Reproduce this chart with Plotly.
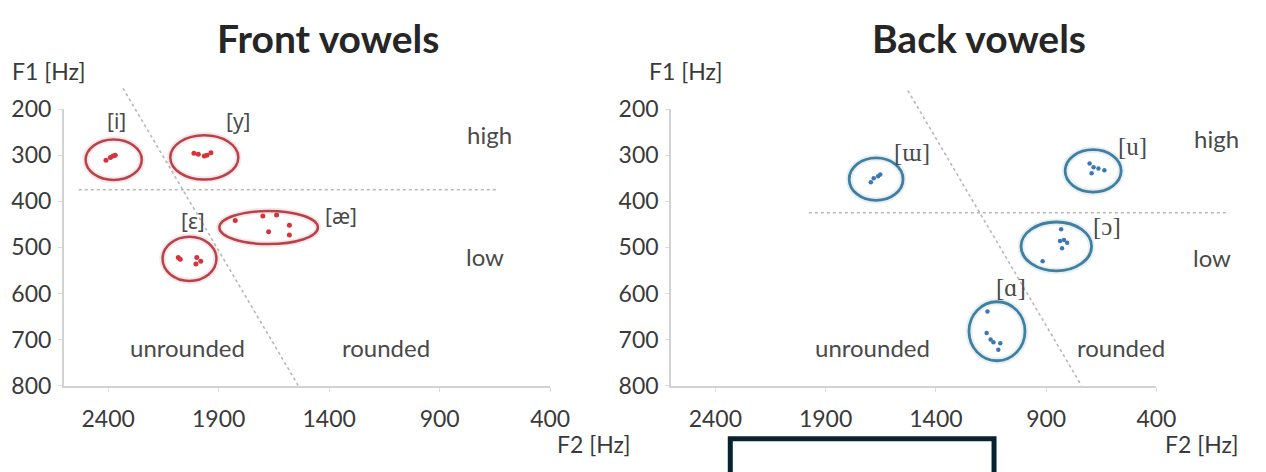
import plotly.graph_objects as go

W, H = 1266, 472

# ---- formant measurements (Hz): F2 on the x axis, F1 on the y axis ----
# front vowels
I_F2 = [2410, 2390, 2378, 2368]
I_F1 = [311, 305, 302, 300]
Y_F2 = [2012, 1992, 1965, 1953, 1935]
Y_F1 = [296, 298, 302, 300, 295]
EPS_F2 = [2083, 2074, 1999, 1981, 2003]
EPS_F1 = [522, 526, 522, 530, 536]
AE_F2 = [1825, 1700, 1638, 1674, 1580, 1580]
AE_F1 = [442, 432, 430, 466, 452, 473]

# back vowels
UU_F2 = [1695, 1682, 1662, 1652]
UU_F1 = [359, 350, 346, 342]
U_F2 = [703, 685, 663, 636, 694]
U_F1 = [318, 326, 329, 333, 339]
OO_F2 = [832, 837, 819, 805, 828, 916]
OO_F1 = [461, 486, 484, 490, 502, 530]
A_F2 = [1166, 1170, 1152, 1139, 1108, 1117]
A_F1 = [639, 686, 700, 706, 708, 722]

# cluster outlines: centre F2, centre F1, half-width (Hz), half-height (Hz)
FRONT_CLUSTERS = {
    "i": (2375, 310, 127, 44),
    "y": (1965, 305, 154, 48),
    "ε": (2032, 525, 122, 48),
    "æ": (1674, 457, 223, 36),
}
BACK_CLUSTERS = {
    "ɯ": (1671, 352, 122, 46),
    "u": (687, 334, 127, 46),
    "ɔ": (854, 498, 160, 53),
    "ɑ": (1123, 682, 127, 64),
}

X_TICKS = [2400, 1900, 1400, 900, 400]
Y_TICKS = [200, 300, 400, 500, 600, 700, 800]
X_RANGE = [2600, 400]
Y_RANGE = [800, 200]

# ---- layout geometry ----
X_DOMAINS = [(65 / W, 559 / W), (682 / W, 1175 / W)]
Y_DOMAIN = (1 - 394 / H, 1 - 100 / H)

FONT = "Lato, 'Source Sans Pro', 'Noto Sans', sans-serif"
IPA_SANS = "'Noto Sans', 'DejaVu Sans', sans-serif"
IPA_SERIF = "'Liberation Serif', 'DejaVu Serif', serif"
TEXT = "#3a3a3a"
LABEL = "#4a4a4a"
RED_LINE = "#b9424a"
RED_DOT = "#d4343c"
BLUE_LINE = "#3f7f9f"
BLUE_DOT = "#3a78b5"
GUIDE = "#b8b8b8"


def to_paper(panel, f2, f1):
    """Map a (F2, F1) pair onto paper coordinates of the given panel."""
    d0, d1 = X_DOMAINS[panel]
    xf = d0 + (X_RANGE[0] - f2) / (X_RANGE[0] - X_RANGE[1]) * (d1 - d0)
    yf = Y_DOMAIN[1] - (f1 - Y_RANGE[1]) / (Y_RANGE[0] - Y_RANGE[1]) * (Y_DOMAIN[1] - Y_DOMAIN[0])
    return xf, yf


fig = go.Figure()

front_series = [(I_F2, I_F1), (Y_F2, Y_F1), (EPS_F2, EPS_F1), (AE_F2, AE_F1)]
back_series = [(UU_F2, UU_F1), (U_F2, U_F1), (OO_F2, OO_F1), (A_F2, A_F1)]

for f2, f1 in front_series:
    fig.add_trace(go.Scatter(x=f2, y=f1, mode="markers", xaxis="x", yaxis="y",
                             marker=dict(size=5, color=RED_DOT), showlegend=False,
                             hoverinfo="skip"))
for f2, f1 in back_series:
    fig.add_trace(go.Scatter(x=f2, y=f1, mode="markers", xaxis="x2", yaxis="y2",
                             marker=dict(size=4.5, color=BLUE_DOT), showlegend=False,
                             hoverinfo="skip"))

shapes = []


def ellipse(xref, yref, params, color, width):
    cx, cy, rx, ry = params
    # soft halo under the outline
    shapes.append(dict(type="circle", xref=xref, yref=yref,
                       x0=cx - rx, x1=cx + rx, y0=cy - ry, y1=cy + ry,
                       line=dict(color=color, width=width + 4), opacity=0.12, layer="below"))
    shapes.append(dict(type="circle", xref=xref, yref=yref,
                       x0=cx - rx, x1=cx + rx, y0=cy - ry, y1=cy + ry,
                       line=dict(color=color, width=width)))


for p in FRONT_CLUSTERS.values():
    ellipse("x", "y", p, RED_LINE, 2.5)
for p in BACK_CLUSTERS.values():
    ellipse("x2", "y2", p, BLUE_LINE, 2.8)


def guide(panel, a, b):
    x0, y0 = to_paper(panel, *a)
    x1, y1 = to_paper(panel, *b)
    shapes.append(dict(type="line", xref="paper", yref="paper", x0=x0, y0=y0, x1=x1, y1=y1,
                       line=dict(color=GUIDE, width=1.6, dash="dot"), layer="below"))


# high / low boundary and rounded / unrounded boundary
guide(0, (2533, 375), (640, 375))
guide(0, (2333, 155), (1540, 800))
guide(1, (1976, 425), (70, 425))
guide(1, (1527, 160), (740, 800))

# framed box at the bottom edge
shapes.append(dict(type="rect", xref="paper", yref="paper",
                   x0=742 / W, x1=1010 / W, y0=-0.05, y1=1 - 450.5 / H,
                   line=dict(color="#08222f", width=5), fillcolor="rgba(0,0,0,0)"))

annotations = []


def note(panel, f2, f1, text, size=24, family=FONT, color=LABEL):
    x, y = to_paper(panel, f2, f1)
    annotations.append(dict(xref="paper", yref="paper", x=x, y=y, text=text,
                            showarrow=False, xanchor="center", yanchor="middle",
                            font=dict(family=family, size=size, color=color)))


# vowel labels
note(0, 2364, 225, "[i]", family=IPA_SANS, size=21)
note(0, 1812, 225, "[y]", family=IPA_SANS, size=21)
note(0, 2017, 442, "[ε]", family=IPA_SANS, size=21)
note(0, 1348, 432, "[æ]", family=IPA_SANS, size=21)
note(1, 1509, 294, "[ɯ]", family=IPA_SERIF, size=25)
note(1, 507, 282, "[u]", family=IPA_SERIF, size=25)
note(1, 622, 455, "[ɔ]", family=IPA_SERIF, size=25)
note(1, 1059, 588, "[ɑ]", family=IPA_SERIF, size=25)

# region labels
note(0, 676, 255, "high")
note(0, 697, 520, "low")
note(0, 2043, 718, "unrounded")
note(0, 1143, 718, "rounded")
note(1, 128, 263, "high")
note(1, 146, 523, "low")
note(1, 1687, 718, "unrounded")
note(1, 560, 718, "rounded")

# titles and axis captions
for cx, title in [(333, "Front vowels"), (995, "Back vowels")]:
    annotations.append(dict(xref="paper", yref="paper", x=cx / W, y=1 - 24 / H, text=f"<b>{title}</b>",
                            showarrow=False, xanchor="center", yanchor="middle",
                            font=dict(family=FONT, size=39, color="#262626")))
for cx in (50, 697):
    annotations.append(dict(xref="paper", yref="paper", x=cx / W, y=1 - 59 / H, text="F1 [Hz]",
                            showarrow=False, xanchor="center", yanchor="middle",
                            font=dict(family=FONT, size=23, color=TEXT)))
for cx in (604, 1221):
    annotations.append(dict(xref="paper", yref="paper", x=cx / W, y=1 - 456 / H, text="F2 [Hz]",
                            showarrow=False, xanchor="center", yanchor="middle",
                            font=dict(family=FONT, size=23, color=TEXT)))

axis_common = dict(showgrid=False, zeroline=False, showline=True, linecolor="#d2d2d2", linewidth=2,
                   ticks="outside", ticklen=4, tickcolor="#dcdcdc", tickwidth=1,
                   tickfont=dict(family=FONT, size=23, color=TEXT))

fig.update_layout(
    width=W, height=H,
    margin=dict(l=0, r=0, t=0, b=0),
    paper_bgcolor="white", plot_bgcolor="white",
    showlegend=False,
    xaxis=dict(domain=X_DOMAINS[0], range=X_RANGE, tickvals=X_TICKS, anchor="y",
               ticklabelstandoff=8, **axis_common),
    yaxis=dict(domain=Y_DOMAIN, range=Y_RANGE, tickvals=Y_TICKS, anchor="x",
               ticklabelstandoff=2, **axis_common),
    xaxis2=dict(domain=X_DOMAINS[1], range=X_RANGE, tickvals=X_TICKS, anchor="y2",
                ticklabelstandoff=8, **axis_common),
    yaxis2=dict(domain=Y_DOMAIN, range=Y_RANGE, tickvals=Y_TICKS, anchor="x2",
                ticklabelstandoff=2, **axis_common),
    shapes=shapes,
    annotations=annotations,
)

fig.write_html("out.html")
